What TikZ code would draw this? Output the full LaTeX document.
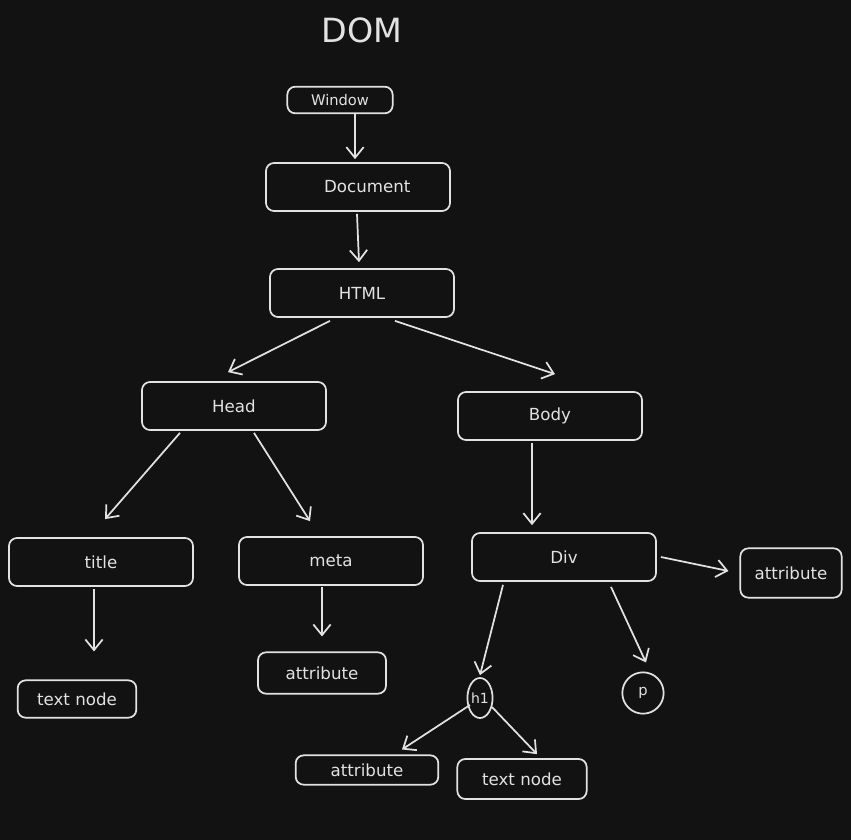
\documentclass[tikz,border=0pt]{standalone}
\usepackage{fontspec}
\setmainfont{DejaVu Sans}
\usetikzlibrary{arrows.meta,calc,shapes.geometric}
\definecolor{bg}{RGB}{18,18,18}
\definecolor{ink}{RGB}{226,226,226}

\begin{document}
\begin{tikzpicture}[x=0.75pt,y=-0.75pt]
\tikzstyle{B}=[draw=ink,line width=1.3pt,rounded corners=6pt,text=ink,
font=\fontsize{12.5}{14}\selectfont,inner sep=2pt,minimum width=138pt,minimum height=36pt]
\tikzstyle{A}=[draw=ink,line width=1.3pt,-{Straight Barb[length=8pt,width=13pt]}]
\fill[bg] (0,0) rectangle (851,840);
\node[text=ink,font=\fontsize{25}{28}\selectfont](dom) at (362,30){DOM};
\node[B,minimum width=79pt,minimum height=20pt,font=\fontsize{11}{13}\selectfont](win) at (340,100){Window};
\node[B](doc) at (358,187){\hspace*{14pt}Document};
\node[B](html) at (362,293){HTML};
\node[B](head) at (234,406){Head};
\node[B](body) at (550,416){Body};
\node[B](title) at (101,562){title};
\node[B](meta) at (331,561){meta};
\node[B](div) at (564,557){Div};
\node[B,minimum width=76pt,minimum height=37pt](at1) at (791,573){attribute};
\node[B,minimum width=89pt,minimum height=28pt](tn1) at (77,699){text node};
\node[B,minimum width=96pt,minimum height=31pt](at2) at (322,673){attribute};
\node[draw=ink,line width=1.3pt,ellipse,text=ink,inner sep=0pt,minimum width=18pt,
minimum height=30pt,font=\fontsize{10.5}{12}\selectfont](h1) at (480,698){h1};
\node[draw=ink,line width=1.3pt,circle,text=ink,inner sep=0pt,minimum size=31pt,
font=\fontsize{11}{12}\selectfont](p) at (643,693){p};
\node[B,minimum width=107pt,minimum height=22pt](at3) at (367,770){attribute};
\node[B,minimum width=97pt,minimum height=30pt](tn2) at (522,779){text node};
% tree edges
\draw[A]($(win.south)+(15,0)$)--($(doc.north)+(-3,-3)$);
\draw[A]($(doc.south)+(-1,2)$)--($(html.north)+(-3,-6)$);
\draw[A]($(html.south)+(-32,3)$)--($(head.north)+(-6,-9)$);
\draw[A]($(html.south)+(33,3)$)--($(body.north)+(5,-17)$);
\draw[A]($(head.south)+(-54,2)$)--($(title.north)+(4,-18)$);
\draw[A]($(head.south)+(20,2)$)--($(meta.north)+(-21,-15)$);
\draw[A]($(body.south)+(-18,2)$)--($(div.north)+(-32,-7)$);
\draw[A]($(title.south)+(-7,2)$)--($(tn1.north)+(17,-28)$);
\draw[A]($(meta.south)+(-9,1)$)--($(at2.north)+(0,-15)$);
\draw[A]($(div.east)+(4,0)$)--($(at1.west)+(-11,-2)$);
\draw[A]($(div.south)+(-61,3)$)--($(h1.north)+(0,-2)$);
\draw[A]($(div.south)+(47,5)$)--($(p.north)+(3,-9)$);
\draw[A]($(h1.center)+(-10,7)$)--($(at3.north)+(35,-5)$);
\draw[A]($(h1.center)+(12,9)$)--($(tn2.north)+(15,-4)$);
\end{tikzpicture}
\end{document}
